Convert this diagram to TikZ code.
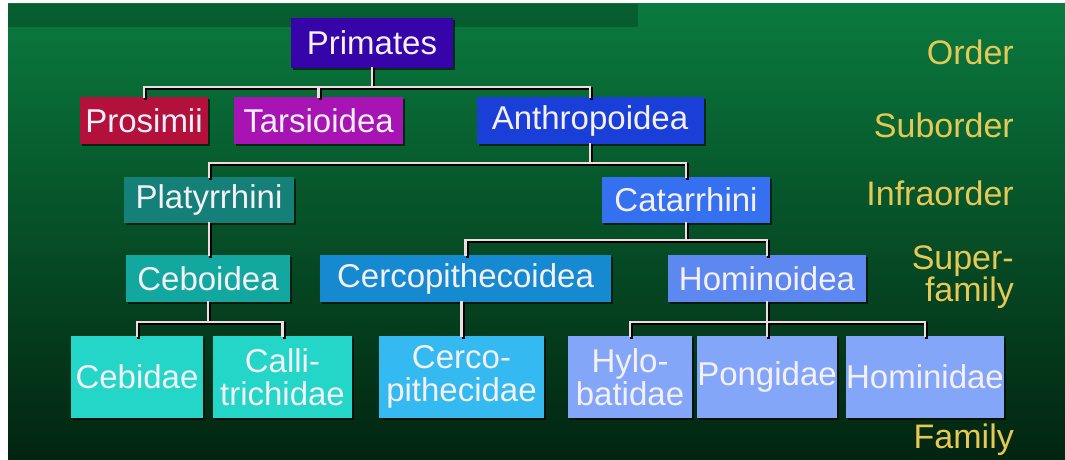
\documentclass[tikz,border=0pt]{standalone}
\usepackage{fontspec}
\setmainfont{Liberation Sans}
\usetikzlibrary{shadows,calc}
\definecolor{bgtop}{RGB}{10,122,62}
\definecolor{bgmid}{RGB}{10,82,42}
\definecolor{bgbot}{RGB}{2,36,16}
\definecolor{rank}{RGB}{232,200,84}
\definecolor{ntext}{RGB}{244,240,248}
\definecolor{line}{RGB}{236,222,222}
\definecolor{cPrimates}{RGB}{54,4,168}
\definecolor{cProsimii}{RGB}{180,16,60}
\definecolor{cTarsioidea}{RGB}{168,20,180}
\definecolor{cAnthropoidea}{RGB}{26,62,216}
\definecolor{cPlatyrrhini}{RGB}{20,128,120}
\definecolor{cCatarrhini}{RGB}{52,112,240}
\definecolor{cCeboidea}{RGB}{18,168,160}
\definecolor{cCercoidea}{RGB}{22,138,208}
\definecolor{cHominoidea}{RGB}{92,136,240}
\definecolor{cCebidae}{RGB}{36,214,200}
\definecolor{cCercidae}{RGB}{52,186,240}
\definecolor{cHomfam}{RGB}{132,166,248}
\newcommand\nodefont{\fontsize{33}{33}\selectfont}
\newcommand\rankfont{\fontsize{34}{32}\selectfont}
\newcommand\drawconnectors[1]{%
  \draw[#1] (prosimii.north) |- (bar1 -| anthropoidea.north) -- (anthropoidea.north);
  \draw[#1] (primates.south) -- (primates.south |- bar1);
  \draw[#1] (tarsioidea.north) -- (tarsioidea.north |- bar1);
  \draw[#1] (platyrrhini.north) |- (bar2 -| catarrhini.north) -- (catarrhini.north);
  \draw[#1] (anthropoidea.south) -- (anthropoidea.south |- bar2);
  \draw[#1] (platyrrhini.south) -- (platyrrhini.south |- ceboidea.north);
  \draw[#1] (cercopithecoidea.north) |- (bar3 -| hominoidea.north) -- (hominoidea.north);
  \draw[#1] (catarrhini.south) -- (catarrhini.south |- bar3);
  \draw[#1] (cebidae.north) |- (bar4 -| callitrichidae.north) -- (callitrichidae.north);
  \draw[#1] (ceboidea.south) -- (ceboidea.south |- bar4);
  \draw[#1] (cercopithecoidea.south -| cercopithecidae.north) -- (cercopithecidae.north);
  \draw[#1] (hylobatidae.north) |- (bar4 -| hominidae.north) -- (hominidae.north);
  \draw[#1] (hominoidea.south) -- (hominoidea.south |- pongidae.north);
}
\begin{document}
\begin{tikzpicture}[x=1pt,y=-1pt,
  box/.style={fill=#1, text=ntext, inner sep=0pt, align=center, font=\nodefont,
    drop shadow={shadow xshift=2pt, shadow yshift=-2pt, fill=black, opacity=.6}},
  ranklabel/.style={text=rank, font=\rankfont, inner sep=0pt, align=right},
  connshadow/.style={draw=black, line width=3pt, line cap=rect,
    transform canvas={shift={(1.6pt,-1.6pt)}}},
  connlight/.style={draw=line, line width=2.6pt, line cap=rect}]
\useasboundingbox (0,0) rectangle (1065,460);
\fill[white] (0,0) rectangle (1065,460);
\shade[top color=bgtop, middle color=bgmid, bottom color=bgbot] (8,4) rectangle (1065,460);
\fill[black, opacity=.22] (8,4) rectangle (638,27);

% Order
\node[box=cPrimates, minimum width=162pt, minimum height=50pt] (primates) at (372,43) {Primates};
% Suborder
\node[box=cProsimii, minimum width=128pt, minimum height=47pt] (prosimii) at (144,120.5) {Prosimii};
\node[box=cTarsioidea, minimum width=169pt, minimum height=47pt] (tarsioidea) at (318.5,120.5) {Tarsioidea};
\node[box=cAnthropoidea, minimum width=227pt, minimum height=47pt] (anthropoidea) at (590,120.5) {Anthropoidea};
% Infraorder
\node[box=cPlatyrrhini, minimum width=170pt, minimum height=46pt] (platyrrhini) at (209,200) {Platyrrhini};
\node[box=cCatarrhini, minimum width=168pt, minimum height=46pt] (catarrhini) at (686,200) {Catarrhini};
% Superfamily
\node[box=cCeboidea, minimum width=164pt, minimum height=47pt] (ceboidea) at (208,278.5) {Ceboidea};
\node[box=cCercoidea, minimum width=291pt, minimum height=47pt] (cercopithecoidea) at (465.5,278.5) {Cercopithecoidea};
\node[box=cHominoidea, minimum width=198pt, minimum height=47pt] (hominoidea) at (767,278.5) {Hominoidea};
% Family
\node[box=cCebidae, minimum width=132pt, minimum height=82pt] (cebidae) at (137,377) {Cebidae};
\node[box=cCebidae, minimum width=139pt, minimum height=82pt] (callitrichidae) at (282.5,377) {Calli-\\trichidae};
\node[box=cCercidae, minimum width=165pt, minimum height=82pt] (cercopithecidae) at (461.5,377) {Cerco-\\pithecidae};
\node[box=cHomfam, minimum width=124pt, minimum height=82pt] (hylobatidae) at (630,377) {Hylo-\\batidae};
\node[box=cHomfam, minimum width=137pt, minimum height=82pt] (pongidae) at (767,377) {Pongidae};
\node[box=cHomfam, minimum width=158pt, minimum height=82pt] (hominidae) at (925,377) {Hominidae};

\coordinate (bar1) at (0,87);
\coordinate (bar2) at (0,163);
\coordinate (bar3) at (0,240);
\coordinate (bar4) at (0,322);
\drawconnectors{connshadow}
\drawconnectors{connlight}

% rank labels
\node[ranklabel, anchor=base east] (lorder) at (1014,65) {Order};
\node[ranklabel, anchor=base east] (lsuborder) at (1014,137) {Suborder};
\node[ranklabel, anchor=base east] (linfra) at (1014,205) {Infraorder};
\node[ranklabel, anchor=east] (lsuper) at (1014,277) {Super-\\family};
\node[ranklabel, anchor=base east] (lfamily) at (1014,448) {Family};
\end{tikzpicture}
\end{document}
